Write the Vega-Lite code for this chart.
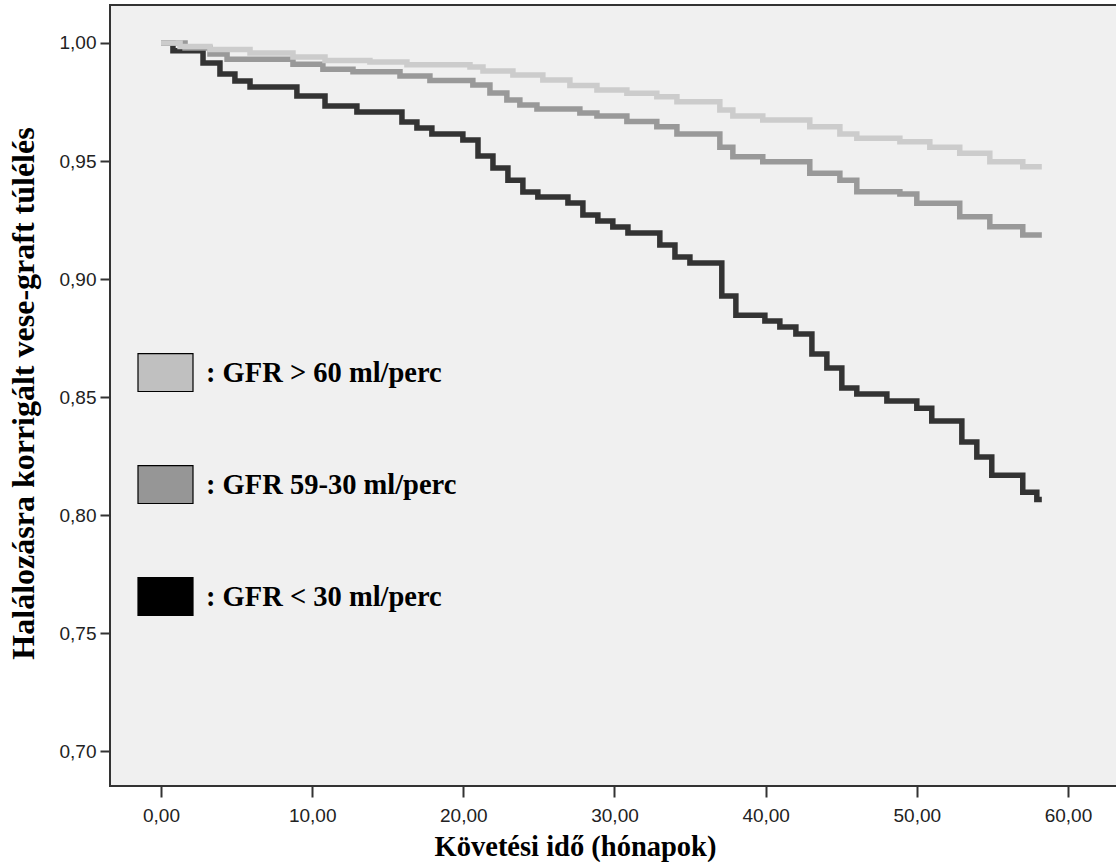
{
  "$schema": "https://vega.github.io/schema/vega-lite/v6.json",
  "width": 1008,
  "height": 781,
  "autosize": {"type": "none"},
  "padding": {"left": 110, "top": 5, "right": 0, "bottom": 79},
  "background": "white",
  "config": {"view": {"fill": "#f0f0f0", "stroke": "#333333", "strokeWidth": 2}},
  "data": {"values": [
    {"g": "GFR > 60 ml/perc", "t": 0, "s": 1.0},
    {"g": "GFR > 60 ml/perc", "t": 1.26, "s": 0.9985},
    {"g": "GFR > 60 ml/perc", "t": 3.24, "s": 0.9972},
    {"g": "GFR > 60 ml/perc", "t": 5.89, "s": 0.9958},
    {"g": "GFR > 60 ml/perc", "t": 8.73, "s": 0.9941},
    {"g": "GFR > 60 ml/perc", "t": 10.85, "s": 0.9926},
    {"g": "GFR > 60 ml/perc", "t": 13.82, "s": 0.9919},
    {"g": "GFR > 60 ml/perc", "t": 16.27, "s": 0.9908},
    {"g": "GFR > 60 ml/perc", "t": 20.44, "s": 0.9898},
    {"g": "GFR > 60 ml/perc", "t": 21.3, "s": 0.9881},
    {"g": "GFR > 60 ml/perc", "t": 23.28, "s": 0.9864},
    {"g": "GFR > 60 ml/perc", "t": 25.26, "s": 0.9843},
    {"g": "GFR > 60 ml/perc", "t": 27.05, "s": 0.982},
    {"g": "GFR > 60 ml/perc", "t": 28.84, "s": 0.9801},
    {"g": "GFR > 60 ml/perc", "t": 30.82, "s": 0.9787},
    {"g": "GFR > 60 ml/perc", "t": 32.8, "s": 0.9772},
    {"g": "GFR > 60 ml/perc", "t": 34.13, "s": 0.9751},
    {"g": "GFR > 60 ml/perc", "t": 36.97, "s": 0.9716},
    {"g": "GFR > 60 ml/perc", "t": 37.83, "s": 0.9691},
    {"g": "GFR > 60 ml/perc", "t": 39.81, "s": 0.9674},
    {"g": "GFR > 60 ml/perc", "t": 42.92, "s": 0.9645},
    {"g": "GFR > 60 ml/perc", "t": 44.91, "s": 0.9614},
    {"g": "GFR > 60 ml/perc", "t": 46.03, "s": 0.9596},
    {"g": "GFR > 60 ml/perc", "t": 48.88, "s": 0.9582},
    {"g": "GFR > 60 ml/perc", "t": 50.86, "s": 0.9558},
    {"g": "GFR > 60 ml/perc", "t": 52.84, "s": 0.9533},
    {"g": "GFR > 60 ml/perc", "t": 54.83, "s": 0.9497},
    {"g": "GFR > 60 ml/perc", "t": 57.01, "s": 0.9476},
    {"g": "GFR > 60 ml/perc", "t": 58.27, "s": 0.9476},
    {"g": "GFR 59-30 ml/perc", "t": 0, "s": 1.0},
    {"g": "GFR 59-30 ml/perc", "t": 1.59, "s": 0.9979},
    {"g": "GFR 59-30 ml/perc", "t": 3.24, "s": 0.9953},
    {"g": "GFR 59-30 ml/perc", "t": 4.37, "s": 0.9931},
    {"g": "GFR 59-30 ml/perc", "t": 8.73, "s": 0.991},
    {"g": "GFR 59-30 ml/perc", "t": 10.71, "s": 0.9889},
    {"g": "GFR 59-30 ml/perc", "t": 12.7, "s": 0.9878},
    {"g": "GFR 59-30 ml/perc", "t": 15.81, "s": 0.986},
    {"g": "GFR 59-30 ml/perc", "t": 17.79, "s": 0.9841},
    {"g": "GFR 59-30 ml/perc", "t": 20.63, "s": 0.9822},
    {"g": "GFR 59-30 ml/perc", "t": 21.76, "s": 0.9788},
    {"g": "GFR 59-30 ml/perc", "t": 22.88, "s": 0.9758},
    {"g": "GFR 59-30 ml/perc", "t": 23.74, "s": 0.9737},
    {"g": "GFR 59-30 ml/perc", "t": 24.87, "s": 0.972},
    {"g": "GFR 59-30 ml/perc", "t": 27.71, "s": 0.9703},
    {"g": "GFR 59-30 ml/perc", "t": 28.84, "s": 0.9691},
    {"g": "GFR 59-30 ml/perc", "t": 30.82, "s": 0.9667},
    {"g": "GFR 59-30 ml/perc", "t": 32.8, "s": 0.9645},
    {"g": "GFR 59-30 ml/perc", "t": 34.13, "s": 0.9614},
    {"g": "GFR 59-30 ml/perc", "t": 36.97, "s": 0.9558},
    {"g": "GFR 59-30 ml/perc", "t": 37.83, "s": 0.9518},
    {"g": "GFR 59-30 ml/perc", "t": 39.81, "s": 0.9497},
    {"g": "GFR 59-30 ml/perc", "t": 42.92, "s": 0.9448},
    {"g": "GFR 59-30 ml/perc", "t": 44.91, "s": 0.9419},
    {"g": "GFR 59-30 ml/perc", "t": 46.03, "s": 0.937},
    {"g": "GFR 59-30 ml/perc", "t": 48.88, "s": 0.936},
    {"g": "GFR 59-30 ml/perc", "t": 50.0, "s": 0.9321},
    {"g": "GFR 59-30 ml/perc", "t": 52.84, "s": 0.9264},
    {"g": "GFR 59-30 ml/perc", "t": 54.83, "s": 0.9222},
    {"g": "GFR 59-30 ml/perc", "t": 57.01, "s": 0.9186},
    {"g": "GFR 59-30 ml/perc", "t": 58.27, "s": 0.9186},
    {"g": "GFR < 30 ml/perc", "t": 0, "s": 1.0},
    {"g": "GFR < 30 ml/perc", "t": 0.79, "s": 0.9967},
    {"g": "GFR < 30 ml/perc", "t": 2.78, "s": 0.9915},
    {"g": "GFR < 30 ml/perc", "t": 3.9, "s": 0.9869},
    {"g": "GFR < 30 ml/perc", "t": 4.89, "s": 0.9839},
    {"g": "GFR < 30 ml/perc", "t": 5.89, "s": 0.9814},
    {"g": "GFR < 30 ml/perc", "t": 8.99, "s": 0.9775},
    {"g": "GFR < 30 ml/perc", "t": 10.85, "s": 0.9733},
    {"g": "GFR < 30 ml/perc", "t": 12.96, "s": 0.9708},
    {"g": "GFR < 30 ml/perc", "t": 15.94, "s": 0.9665},
    {"g": "GFR < 30 ml/perc", "t": 16.93, "s": 0.964},
    {"g": "GFR < 30 ml/perc", "t": 17.92, "s": 0.9614},
    {"g": "GFR < 30 ml/perc", "t": 19.97, "s": 0.9589},
    {"g": "GFR < 30 ml/perc", "t": 20.97, "s": 0.9521},
    {"g": "GFR < 30 ml/perc", "t": 21.96, "s": 0.947},
    {"g": "GFR < 30 ml/perc", "t": 22.95, "s": 0.9419},
    {"g": "GFR < 30 ml/perc", "t": 23.94, "s": 0.9369},
    {"g": "GFR < 30 ml/perc", "t": 24.93, "s": 0.9347},
    {"g": "GFR < 30 ml/perc", "t": 26.92, "s": 0.9322},
    {"g": "GFR < 30 ml/perc", "t": 27.91, "s": 0.9271},
    {"g": "GFR < 30 ml/perc", "t": 28.9, "s": 0.9246},
    {"g": "GFR < 30 ml/perc", "t": 29.89, "s": 0.922},
    {"g": "GFR < 30 ml/perc", "t": 30.89, "s": 0.9195},
    {"g": "GFR < 30 ml/perc", "t": 33.0, "s": 0.9144},
    {"g": "GFR < 30 ml/perc", "t": 34.0, "s": 0.9093},
    {"g": "GFR < 30 ml/perc", "t": 34.99, "s": 0.9068},
    {"g": "GFR < 30 ml/perc", "t": 37.1, "s": 0.8928},
    {"g": "GFR < 30 ml/perc", "t": 38.03, "s": 0.8847},
    {"g": "GFR < 30 ml/perc", "t": 39.95, "s": 0.8822},
    {"g": "GFR < 30 ml/perc", "t": 40.94, "s": 0.8797},
    {"g": "GFR < 30 ml/perc", "t": 42.0, "s": 0.8767},
    {"g": "GFR < 30 ml/perc", "t": 43.06, "s": 0.8682},
    {"g": "GFR < 30 ml/perc", "t": 44.05, "s": 0.8623},
    {"g": "GFR < 30 ml/perc", "t": 45.04, "s": 0.8538},
    {"g": "GFR < 30 ml/perc", "t": 46.03, "s": 0.8513},
    {"g": "GFR < 30 ml/perc", "t": 48.02, "s": 0.8483},
    {"g": "GFR < 30 ml/perc", "t": 50.0, "s": 0.8453},
    {"g": "GFR < 30 ml/perc", "t": 50.99, "s": 0.8398},
    {"g": "GFR < 30 ml/perc", "t": 52.98, "s": 0.8309},
    {"g": "GFR < 30 ml/perc", "t": 53.97, "s": 0.8246},
    {"g": "GFR < 30 ml/perc", "t": 54.96, "s": 0.8169},
    {"g": "GFR < 30 ml/perc", "t": 57.01, "s": 0.8097},
    {"g": "GFR < 30 ml/perc", "t": 57.94, "s": 0.8066},
    {"g": "GFR < 30 ml/perc", "t": 58.27, "s": 0.8066}
  ]},
  "encoding": {
    "x": {
      "field": "t", "type": "quantitative",
      "scale": {"domain": [-3.374, 63.31], "nice": false, "zero": false},
      "axis": {
        "values": [0, 10, 20, 30, 40, 50, 60],
        "labelExpr": "replace(format(datum.value, '.2f'), '.', ',')",
        "domain": false, "grid": false,
        "tickSize": 11, "tickWidth": 2, "tickColor": "#333333",
        "labelFont": "Liberation Sans", "labelFontSize": 19, "labelColor": "#222222", "labelPadding": 9,
        "title": "Követési idő (hónapok)",
        "titleFont": "Liberation Serif", "titleFontWeight": "bold", "titleFontSize": 28.5, "titleColor": "#000000",
        "titleX": 465, "titlePadding": 7
      }
    },
    "y": {
      "field": "s", "type": "quantitative",
      "scale": {"domain": [0.6852, 1.0161], "nice": false, "zero": false},
      "axis": {
        "values": [0.7, 0.75, 0.8, 0.85, 0.9, 0.95, 1.0],
        "labelExpr": "replace(format(datum.value, '.2f'), '.', ',')",
        "domain": false, "grid": false,
        "tickSize": 10, "tickWidth": 2, "tickColor": "#333333",
        "labelFont": "Liberation Sans", "labelFontSize": 19, "labelColor": "#222222", "labelPadding": 4,
        "title": "Halálozásra korrigált vese-graft túlélés",
        "titleFont": "Liberation Serif", "titleFontWeight": "bold", "titleFontSize": 32, "titleColor": "#000000",
        "titlePadding": 19, "titleY": 388
      }
    }
  },
  "layer": [
    {
      "mark": {"type": "point", "filled": true, "size": 0, "opacity": 0},
      "encoding": {
        "fill": {
          "field": "g", "type": "nominal",
          "scale": {
            "domain": ["GFR > 60 ml/perc", "GFR 59-30 ml/perc", "GFR < 30 ml/perc"],
            "range": ["#c0c0c0", "#969696", "#000000"]
          },
          "legend": {
            "orient": "none", "legendX": 27, "legendY": 339, "direction": "vertical",
            "title": null,
            "symbolType": "M-1,-0.69H1V0.69H-1Z", "symbolSize": 3025,
            "symbolStrokeColor": "#000000", "symbolStrokeWidth": 1.2, "symbolOpacity": 1,
            "labelFont": "Liberation Serif", "labelFontWeight": "bold", "labelFontSize": 28.5, "labelColor": "#000000",
            "labelOffset": 12, "rowPadding": 62, "labelLimit": 0,
            "labelExpr": "': ' + datum.label"
          }
        }
      }
    },
    {"transform": [{"filter": "datum.g === 'GFR < 30 ml/perc'"}],
     "mark": {"type": "line", "interpolate": "step-after", "strokeWidth": 5.5, "strokeCap": "butt", "strokeJoin": "miter", "color": "#333333"},
     "encoding": {"detail": {"field": "g"}}},
    {"transform": [{"filter": "datum.g === 'GFR 59-30 ml/perc'"}],
     "mark": {"type": "line", "interpolate": "step-after", "strokeWidth": 5.5, "strokeCap": "butt", "strokeJoin": "miter", "color": "#999999"},
     "encoding": {"detail": {"field": "g"}}},
    {"transform": [{"filter": "datum.g === 'GFR > 60 ml/perc'"}],
     "mark": {"type": "line", "interpolate": "step-after", "strokeWidth": 5.5, "strokeCap": "butt", "strokeJoin": "miter", "color": "#cccccc"},
     "encoding": {"detail": {"field": "g"}}}
  ]
}
